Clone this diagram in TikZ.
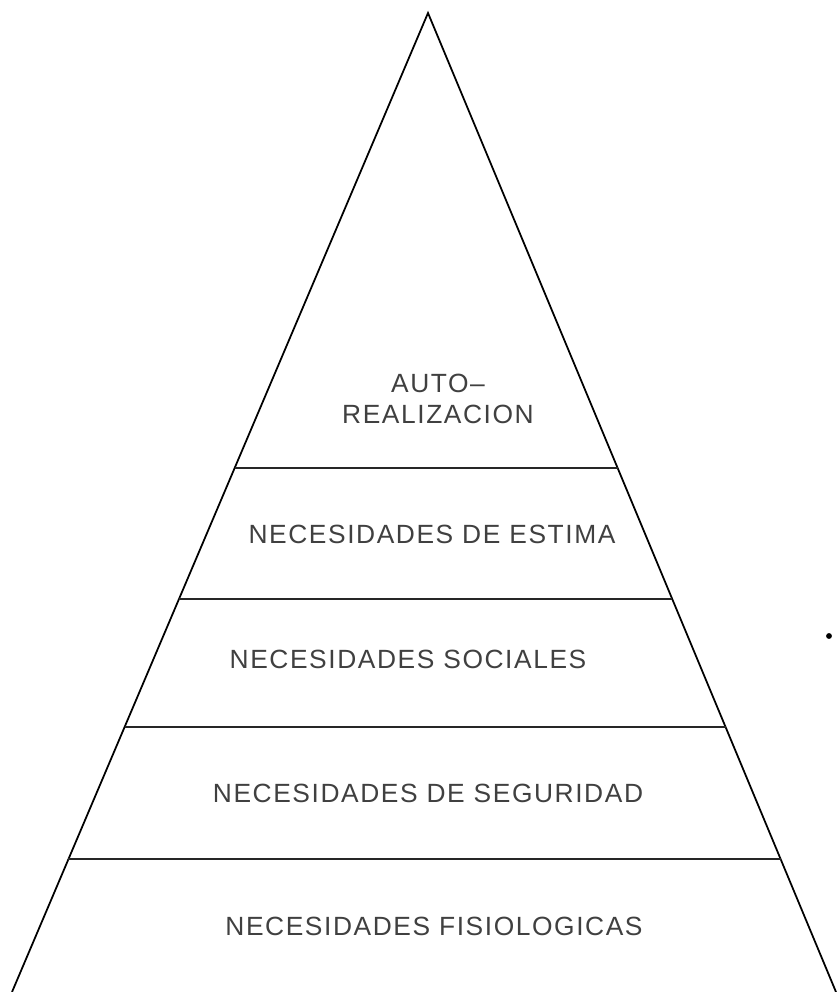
\documentclass[tikz,border=0pt]{standalone}
\usepackage{fontspec}
\setmainfont{Liberation Sans}[LetterSpace=6]
\usetikzlibrary{calc}

\begin{document}
\begin{tikzpicture}[
    x=0.03cm, y=-0.03cm,
    side/.style={line width=1.5pt, black},
    tier/.style={line width=1.2pt, black!85},
    lbl/.style={text=black!75, inner sep=0pt, align=center,
                font=\fontsize{22.5}{27}\selectfont},
    speck/.style={circle, fill=black, inner sep=0pt, minimum size=5}
]
\useasboundingbox (0,0) rectangle (836,992);
% pyramid outline
\coordinate (apex) at (428,13);
\coordinate (bl) at (12,992);
\coordinate (br) at (836,992);
\draw[side] (bl) -- (apex) -- (br);
% levels
\foreach \t [count=\i] in {0.4648,0.5986,0.7293,0.8642} {
  \coordinate (L\i) at ($(apex)!\t!(bl)$);
  \coordinate (R\i) at ($(apex)!\t!(br)$);
  \draw[tier] (L\i) -- (R\i);
}
\node[lbl] (auto) at (438,399) {AUTO–\\REALIZACION};
\node[lbl] (estima) at (432,534) {NECESIDADES DE ESTIMA};
\node[lbl] (sociales) at (408,659) {NECESIDADES SOCIALES};
\node[lbl] (seguridad) at (428,793) {NECESIDADES DE SEGURIDAD};
\node[lbl] (fisio) at (434,926) {NECESIDADES FISIOLOGICAS};
\node[speck] (dot) at (829,636) {};
\end{tikzpicture}
\end{document}
